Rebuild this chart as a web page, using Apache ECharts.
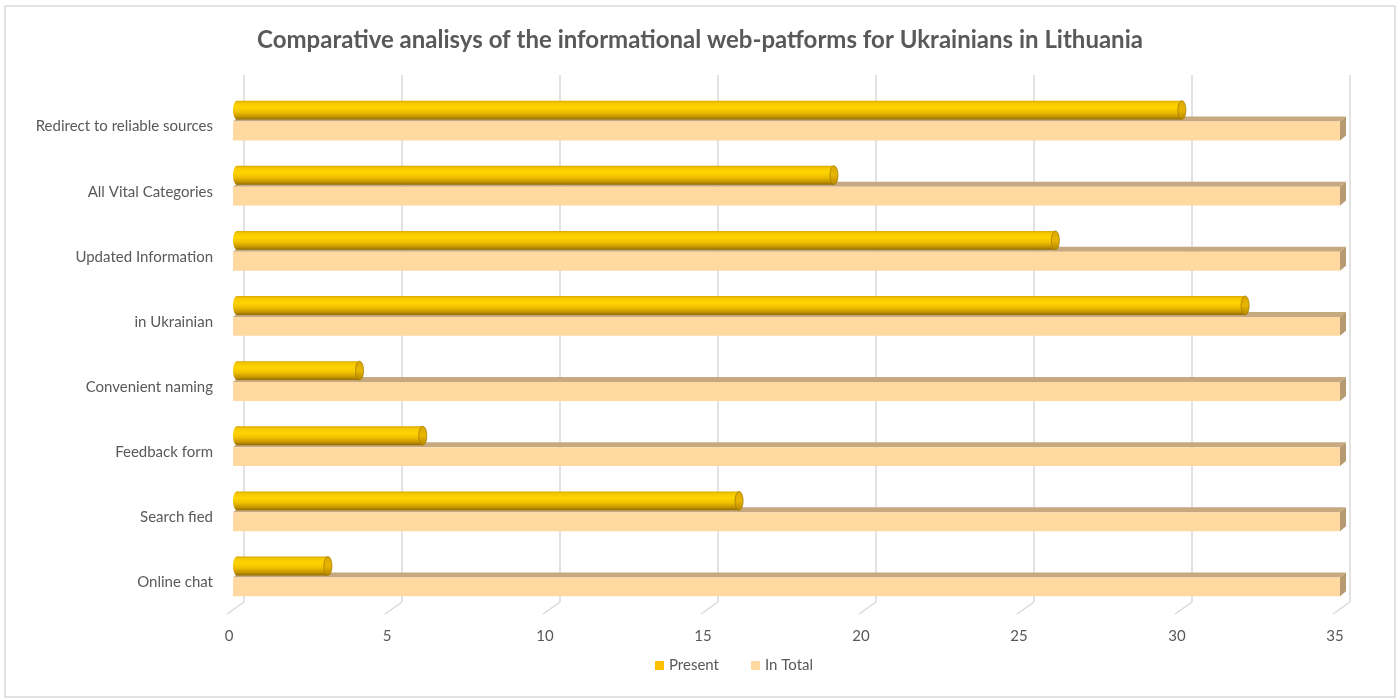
<!DOCTYPE html>
<html>
<head>
<meta charset="utf-8">
<script src="https://cdn.jsdelivr.net/npm/echarts@6/dist/echarts.min.js"></script>
<style>html,body{margin:0;padding:0;background:#fff}#c{width:1400px;height:700px}</style>
</head>
<body>
<div id="c"></div>
<script>
var categories = ['Online chat','Search fied','Feedback form','Convenient naming','in Ukrainian','Updated Information','All Vital Categories','Redirect to reliable sources'];
var presentValues = [3, 16, 6, 4, 32, 26, 19, 30];
var totalValues = [35, 35, 35, 35, 35, 35, 35, 35];
var xTicks = [0, 5, 10, 15, 20, 25, 30, 35];

var chart = echarts.init(document.getElementById('c'));
var FONT = 'Lato, "Open Sans", sans-serif';
var TXT = '#595959';

function pairs(vals){ return vals.map(function(v,i){ return [v, i]; }); }

function renderTotal(params, api){
  var cat = api.value(1), val = api.value(0);
  var p0 = api.coord([0, cat]), p1 = api.coord([val, cat]);
  var band = api.size([0, 1])[1];
  var cy = p0[1];
  var h = band * 0.29;
  var d = 6, dy = 5;
  var x0 = p0[0], x1 = p1[0];
  var top = cy + 1;
  return {type:'group', children:[
    {type:'polygon', shape:{points:[[x0,top],[x1,top],[x1+d,top-dy],[x0+d,top-dy]]}, style:{fill:'#C6A97F'}},
    {type:'polygon', shape:{points:[[x1,top],[x1+d,top-dy],[x1+d,top+h-dy],[x1,top+h]]}, style:{fill:'#B59A72'}},
    {type:'rect', shape:{x:x0, y:top, width:x1-x0, height:h}, style:{fill:'#FFD9A0'}}
  ]};
}

function renderPresent(params, api){
  var cat = api.value(1), val = api.value(0);
  var p0 = api.coord([0, cat]), p1 = api.coord([val, cat]);
  var band = api.size([0, 1])[1];
  var cy = p0[1];
  var h = band * 0.29;
  var y0 = cy - 1 - h;
  var x0 = p0[0], x1 = p1[0];
  var rx = 4;
  var grad = new echarts.graphic.LinearGradient(0,0,0,1,[
    {offset:0, color:'#D9A800'},
    {offset:0.12, color:'#F5C800'},
    {offset:0.35, color:'#FFD500'},
    {offset:0.6, color:'#F0C000'},
    {offset:0.85, color:'#C49400'},
    {offset:1, color:'#8F6B00'}
  ]);
  var capGrad = new echarts.graphic.LinearGradient(0,0,0,1,[
    {offset:0, color:'#D9A600'},
    {offset:0.5, color:'#E8B600'},
    {offset:1, color:'#B08400'}
  ]);
  return {type:'group', children:[
    {type:'ellipse', shape:{cx:x0+rx, cy:y0+h/2, rx:rx, ry:h/2}, style:{fill:grad}},
    {type:'rect', shape:{x:x0+rx, y:y0, width:Math.max(0,x1-x0-rx), height:h}, style:{fill:grad}},
    {type:'ellipse', shape:{cx:x1, cy:y0+h/2, rx:rx, ry:h/2}, style:{fill:capGrad, stroke:'#A67C00', lineWidth:0.8}}
  ]};
}

function renderTicks(params, api){
  var v = api.value(0);
  var p = api.coord([v, 0]);
  var cs = params.coordSys;
  var yb = cs.y + cs.height;
  return {type:'line', shape:{x1:p[0], y1:yb, x2:p[0]-17, y2:yb+12}, style:{stroke:'#D9D9D9', lineWidth:1.5}};
}

var option = {
  backgroundColor:'#fff',
  animation:false,
  title:{text:'Comparative analisys of the informational web-patforms for Ukrainians in Lithuania', left:'center', top:23,
    textStyle:{fontFamily:FONT, fontSize:24, fontWeight:'bold', color:TXT}},
  legend:{bottom:22, left:650, itemWidth:9, itemHeight:9, itemGap:32, icon:'rect',
    textStyle:{fontFamily:FONT, fontSize:15, color:TXT},
    data:[{name:'Present', itemStyle:{color:'#FFC000'}},{name:'In Total', itemStyle:{color:'#FFD9A0'}}]},
  graphic:[{type:'rect', shape:{x:5, y:6, width:1390, height:691}, style:{fill:'none', stroke:'#D9D9D9', lineWidth:1.5}, silent:true, z:-1}],
  grid:[
    {left:233, right:60, top:88, bottom:91},
    {left:244, right:50, top:75, bottom:98},
    {left:229, right:65, top:94, bottom:85}
  ],
  xAxis:[
    {gridIndex:0, type:'value', min:0, max:35, interval:5, show:false},
    {gridIndex:1, type:'value', min:0, max:35, interval:5, axisLabel:{show:false}, axisLine:{show:false}, axisTick:{show:false},
      splitLine:{show:true, lineStyle:{color:'#D9D9D9', width:1.5}}},
    {gridIndex:2, type:'value', min:0, max:35, interval:5, axisLine:{show:false}, axisTick:{show:false}, splitLine:{show:false},
      axisLabel:{margin:14, fontFamily:FONT, fontSize:15, color:TXT}}
  ],
  yAxis:[
    {gridIndex:0, type:'category', data:categories, show:false},
    {gridIndex:1, type:'category', data:categories, show:false},
    {gridIndex:2, type:'category', data:categories, axisLine:{show:false}, axisTick:{show:false},
      axisLabel:{margin:16, fontFamily:FONT, fontSize:15, color:TXT}}
  ],
  series:[
    {name:'Present', type:'custom', xAxisIndex:0, yAxisIndex:0, z:5, itemStyle:{color:'#FFC000'},
      encode:{x:0, y:1}, data:pairs(presentValues), renderItem:renderPresent},
    {name:'In Total', type:'custom', xAxisIndex:0, yAxisIndex:0, z:3, itemStyle:{color:'#FFD9A0'},
      encode:{x:0, y:1}, data:pairs(totalValues), renderItem:renderTotal},
    {name:'ticks', type:'custom', xAxisIndex:1, yAxisIndex:1, z:1, silent:true,
      encode:{x:0}, data:xTicks.map(function(v){return [v];}), renderItem:renderTicks}
  ]
};
chart.setOption(option);
</script>
</body>
</html>
